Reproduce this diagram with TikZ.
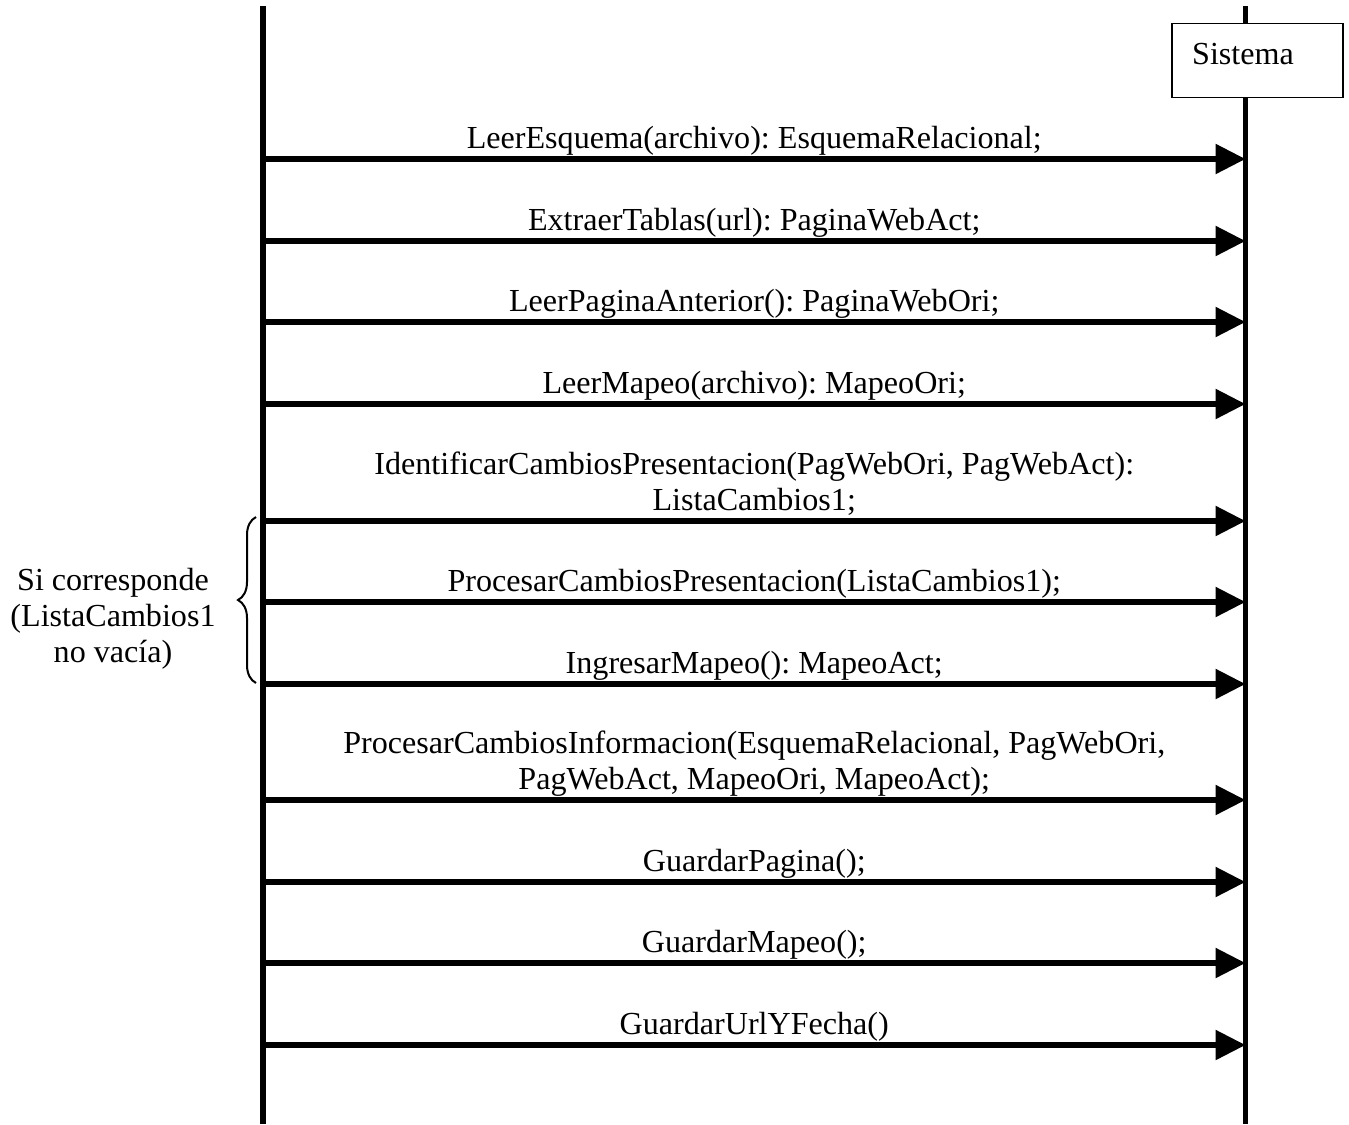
\documentclass[tikz,border=0pt]{standalone}
\usepackage{fontspec}
\setmainfont{Liberation Serif}
\usetikzlibrary{arrows.meta,decorations.pathreplacing}
\frenchspacing
\begin{document}
\begin{tikzpicture}[x=1bp,y=-1bp,
  lifeline/.style={line width=5.5bp},
  msg/.style={line width=5.5bp,-{Triangle[length=30bp,width=29bp]}},
  txt/.style={inner sep=0pt,font=\fontsize{32.1bp}{36bp}\selectfont},
  lbl/.style={txt,anchor=base},
  objbox/.style={draw,line width=1.3bp,fill=white,minimum width=171bp,minimum height=74bp,inner sep=0pt}]
\useasboundingbox (0,0) rectangle (1349,1124);

% lifelines
\coordinate (Ltop) at (263,6);
\coordinate (Lbot) at (263,1124);
\coordinate (Rtop) at (1245.5,6);
\coordinate (Rbot) at (1245.5,1124);
\draw[lifeline] (Ltop) -- (Lbot);
\draw[lifeline] (Rtop) -- (Rbot);

% object box
\node[objbox] (sis) at (1257.5,60.5) {};
\node[lbl,anchor=base west] (sistxt) at (1192,64) {Sistema};

% message anchors on both lifelines
\foreach \i/\y in {1/159,2/241,3/322,4/404,5/521,6/602,7/684,8/800,9/882,10/963,11/1045}{
  \coordinate (L\i) at (263,\y);
  \coordinate (R\i) at (1245.5,\y);
}

\newcommand{\msglabel}[2]{%
  \draw[msg] (L#1) -- (R#1)
    node[lbl,pos=0.5,yshift=11bp] (m#1) {\begin{tabular}[b]{@{}c@{}}#2\end{tabular}};}

\msglabel{1}{LeerEsquema(archivo): EsquemaRelacional;}
\msglabel{2}{ExtraerTablas(url): PaginaWebAct;}
\msglabel{3}{LeerPaginaAnterior(): PaginaWebOri;}
\msglabel{4}{LeerMapeo(archivo): MapeoOri;}
\msglabel{5}{IdentificarCambiosPresentacion(PagWebOri, PagWebAct):\\ListaCambios1;}
\msglabel{6}{ProcesarCambiosPresentacion(ListaCambios1);}
\msglabel{7}{IngresarMapeo(): MapeoAct;}
\msglabel{8}{ProcesarCambiosInformacion(EsquemaRelacional, PagWebOri,\\PagWebAct, MapeoOri, MapeoAct);}
\msglabel{9}{GuardarPagina();}
\msglabel{10}{GuardarMapeo();}
\msglabel{11}{GuardarUrlYFecha()}

% conditional block
\coordinate (bTop) at (256,517);
\coordinate (bBot) at (256,683);
\draw[line width=2bp,decorate,decoration={brace,amplitude=18bp}]
  (bBot) -- (bTop);
\node[lbl] (cond) at (113,590) {\begin{tabular}[t]{@{}c@{}}Si corresponde\\(ListaCambios1\\no vacía)\end{tabular}};
\end{tikzpicture}
\end{document}
